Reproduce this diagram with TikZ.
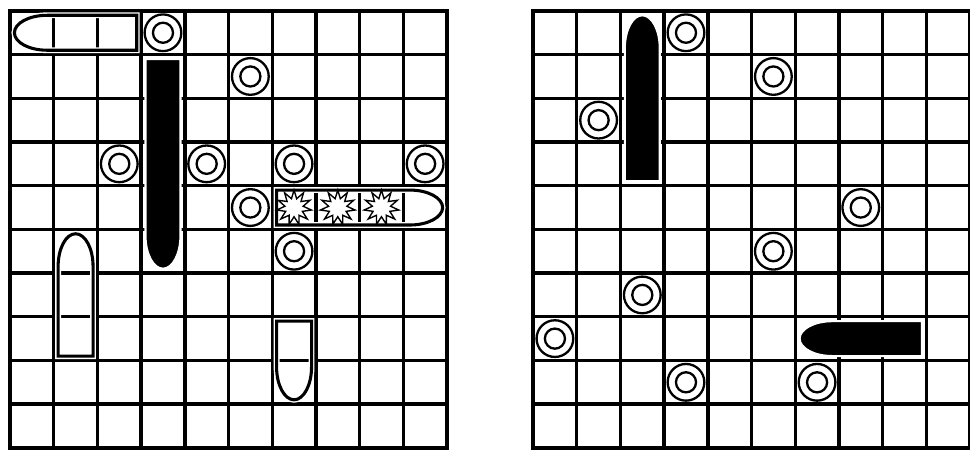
\documentclass[tikz,border=0pt]{standalone}
\usetikzlibrary{shapes.geometric}

\begin{document}
\begin{tikzpicture}[
    x=1cm, y=1cm,
    gridline/.style={line width=2.2pt, line cap=rect},
    miss/.style   ={circle, draw, line width=1.5pt, fill=white,
                    minimum size=8.4mm, inner sep=0pt,
                    path picture={\draw[line width=1.5pt]
                        (path picture bounding box.center) circle (2.3mm);}},
    openship/.style={draw=white, double=black, line width=0.9pt,
                    double distance=2pt},
    sunkship/.style={fill=black, draw=white, line width=1.4pt},
    hit/.style    ={star, star points=11, star point ratio=1.9, draw,
                    line width=0.9pt, fill=white, minimum size=8mm,
                    inner sep=0pt},
    pics/bullet/.style={code={
        \path[pic actions] (0.35,0.4) -- ({#1-0.6},0.4) -- ({#1-0.6},-0.4)
            -- (0.35,-0.4)
            arc[start angle=270, end angle=90, x radius=0.75, y radius=0.4]
            -- cycle;
    }},
]

\useasboundingbox (0,0) rectangle (22.2,10.43);
\fill[white] (0,0) rectangle (22.2,10.43);

% =========================================================
% Left board: own fleet, opponent's shots
% =========================================================
\begin{scope}[shift={(0.23,0.18)}]
\draw[gridline] (0,0) grid (10,10);
\draw[gridline] (0,0) rectangle (10,10);

% ships (pic origin = centre of the nose cell)
\pic[openship]              at (0.5,9.5) {bullet=3};
\pic[sunkship, rotate=90]   at (3.5,4.5) {bullet=5};
\pic[openship, rotate=180]  at (9.5,5.5) {bullet=4};
\pic[openship, rotate=-90]  at (1.5,4.5) {bullet=3};
\pic[openship, rotate=90]   at (6.5,1.5) {bullet=2};

% hits
\node[hit] (hitA) at (6.5,5.5) {};
\node[hit] (hitB) at (7.5,5.5) {};
\node[hit] (hitC) at (8.5,5.5) {};

% misses (column/row, row 0 at top)
\foreach \c/\r in {3/0,5/1,2/3,4/3,6/3,9/3,5/4,6/5}
    \node[miss] (lm\c\r) at ({\c+0.5},{9.5-\r}) {};
\end{scope}

% =========================================================
% Right board: target fleet
% =========================================================
\begin{scope}[shift={(12.2,0.18)}]
\draw[gridline] (0,0) grid (10,10);
\draw[gridline] (0,0) rectangle (10,10);

\pic[sunkship, rotate=-90] at (2.5,9.5) {bullet=4};
\pic[sunkship]             at (6.5,2.5) {bullet=3};

\foreach \c/\r in {3/0,5/1,1/2,7/4,5/5,2/6,0/7,3/8,6/8}
    \node[miss] (rm\c\r) at ({\c+0.5},{9.5-\r}) {};
\end{scope}

\end{tikzpicture}
\end{document}
